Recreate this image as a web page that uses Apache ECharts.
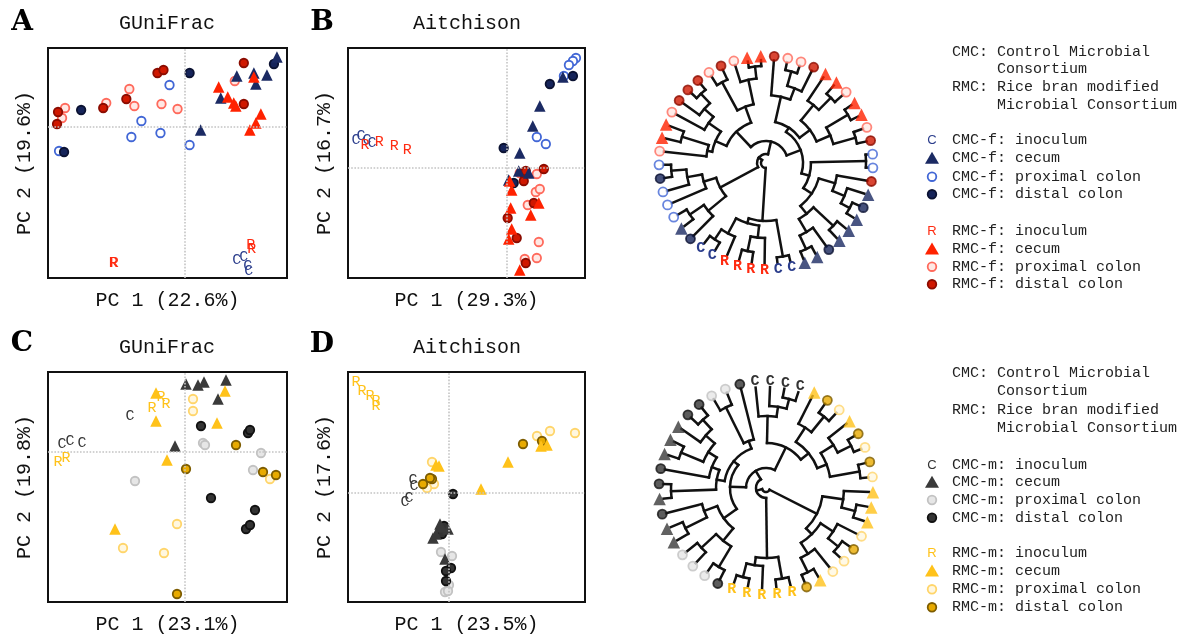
<!DOCTYPE html>
<html><head><meta charset="utf-8">
<script src="https://cdn.jsdelivr.net/npm/echarts@6/dist/echarts.min.js"></script>
<style>html,body{margin:0;padding:0;background:#fff}#c{width:1185px;height:634px}</style>
</head><body><div id="c"></div>
<script>
// ================= DATA =================
const panelTitles = ['GUniFrac', 'Aitchison', 'GUniFrac', 'Aitchison'];
const panelLetters = ['A', 'B', 'C', 'D'];
const xAxisNames = ['PC 1 (22.6%)', 'PC 1 (29.3%)', 'PC 1 (23.1%)', 'PC 1 (23.5%)'];
const yAxisNames = ['PC 2 (19.6%)', 'PC 2 (16.7%)', 'PC 2 (19.8%)', 'PC 2 (17.6%)'];
const xRanges = [[-136, 102], [-158, 78], [-137, 102], [-101, 136]];
const yRanges = [[-151, 79], [-110, 120], [-150, 80], [-109, 121]];

// Panel A (GUniFrac, female)
const A_CI = [[52,-133],[59,-130],[63,-139],[64,-144]];
const A_CC = [[16,-3],[36,29],[52,51],[69,54],[71,43],[82,52],[92,70]];
const A_CP = [[-15,42],[-43,6],[-53,-10],[-24,-6],[5,-18],[-125,-24]];
const A_CD = [[5,54],[-103,17],[-120,-25],[89,63]];
const A_RI = [[-71,-136],[-70,-136],[66,-118],[67,-122]];
const A_RC = [[34,40],[43,30],[49,24],[51,21],[69,50],[65,-3],[71,4],[76,13]];
const A_RP = [[-55,38],[-78,24],[-50,21],[-23,23],[-7,18],[-119,19],[-122,9],[50,46]];
const A_RD = [[-27,54],[-21,57],[-58,28],[-81,19],[-126,15],[-127,3],[59,64],[59,23]];
// Panel B (Aitchison, female)
const B_CI = [[-150,28],[-145,32],[-139,28],[-134,25]];
const B_CC = [[56,91],[33,62],[26,42],[13,15],[12,-3],[22,-5],[2,-12]];
const B_CP = [[69,110],[66,107],[62,103],[57,92],[30,31],[39,24]];
const B_CD = [[43,84],[66,92],[-3,20],[7,-15]];
const B_RI = [[-141,23],[-127,26],[-112,22],[-99,18]];
const B_RC = [[5,-22],[4,-40],[5,-61],[2,-71],[32,-35],[24,-47],[13,-102],[3,-13]];
const B_RP = [[30,-6],[29,-24],[33,-21],[21,-37],[32,-74],[30,-90],[18,-91],[13,-5]];
const B_RD = [[17,-5],[37,-1],[17,-13],[1,-50],[10,-70],[27,-35],[19,-95],[19,-3]];
// Panel C (GUniFrac, male)
const C_CI = [[-55,36],[-123,8],[-115,11],[-103,9]];
const C_CC = [[1,68],[13,67],[19,70],[41,72],[33,53],[-10,6]];
const C_CP = [[18,9],[20,7],[-50,-29],[76,-1],[68,-18]];
const C_CD = [[16,26],[63,19],[65,22],[26,-46],[70,-58],[61,-77],[65,-73]];
const C_RI = [[-33,44],[-24,55],[-19,48],[-127,-10],[-119,-6]];
const C_RC = [[-29,59],[40,61],[-29,31],[32,29],[-18,-8],[-70,-77]];
const C_RP = [[8,53],[8,41],[-8,-72],[-62,-96],[-21,-101],[85,-27]];
const C_RD = [[51,7],[1,-17],[78,-20],[91,-23],[-8,-142]];
// Panel D (Aitchison, male)
const D_CI = [[-36,13],[-35,7],[-44,-9],[-40,-5]];
const D_CC = [[-9,-31],[-1,-36],[-16,-45],[-8,-34],[-4,-66],[-13,-41]];
const D_CP = [[-8,-59],[3,-63],[0,-92],[-4,-99],[-1,-98]];
const D_CD = [[4,-1],[-8,-37],[-7,-41],[2,-75],[-3,-78],[-3,-88],[-5,-33]];
const D_RI = [[-93,111],[-87,102],[-79,97],[-73,92],[-73,87]];
const D_RC = [[92,47],[98,48],[-13,28],[-10,27],[59,31],[32,4]];
const D_RP = [[88,57],[101,62],[126,60],[-17,31],[-15,9],[-22,5]];
const D_RD = [[74,49],[93,52],[-26,9],[-17,14],[-19,15]];

// Dendrogram tips (clockwise from top) and trees [nodeDepth, child, child]; numbers = tip index
const topTips = ['RD','RP','RP','RD','RC','RC','RP','RC','RC','RP','RD','CP','CP','RD','CC','CD','CC','CC','CC','CD','CC','CC',
  'CI','CI','RI','RI','RI','RI','CI','CI','CD','CC','CP','CP','CP','CD','CP','RP','RC','RC','RP','RD','RD','RD','RP','RD','RP','RC','RC'];
const topTree = [5,
  [58, [95,23,24], [63, [75,25,[90,26,27]], [80,28,[92,29,30]]]],
  [9,
    [52, [75,31,[92,32,33]], [65,34,[80,35,[95,36,37]]]],
    [22,
      [43, [55, [60,38,[88,39,40]], [70,41,[82,42,[95,43,44]]]], [60, [92,45,46], [85,47,[97,48,49]]]],
      [37,
        [42, [68,1,[80,[95,2,3],4]], [55, [75,5,[92,6,7]], [70,[95,8,9],[93,10,11]]]],
        [45, [100,12,13], [55, [72,14,[85,15,[95,16,17]]], [65,[92,18,19],[80,20,[95,21,22]]]]]
      ]
    ]
  ]
];
const bottomTips = ['CI','CI','CI','CI','RC','RD','RP','RC','RD','RP','RD','RP','RC','RC','RC','RP','RD','RP','RP','RC','RD',
  'RI','RI','RI','RI','RI','CD','CP','CP','CP','CC','CC','CD','CC','CD','CD','CC','CC','CC','CD','CD','CP','CP','CD'];
const bottomTree = [4,
  [57, [78,13,[92,14,15]], [65, [80,16,[93,17,18]], [78,19,[94,20,21]]]],
  [10,
    [70, [92,22,23], [78,24,[92,25,26]]],
    [20,
      [36,
        [52, [68,[92,27,28],[88,29,30]], [66,[90,31,32],33]],
        [42, [50,[95,34,35],[58,36,[68,[92,37,38],[80,39,[93,40,41]]]]], [50,[90,42,43],44]]
      ],
      [45,
        [72,1,[82,2,[92,3,4]]],
        [55, [72,5,[92,6,7]], [65,[80,8,[95,9,10]],[95,11,12]]]
      ]
    ]
  ]
];

const legendHeader = ['CMC: Control Microbial', 'Consortium', 'RMC: Rice bran modified', 'Microbial Consortium'];
const legendTopLabels = ['CMC-f: inoculum','CMC-f: cecum','CMC-f: proximal colon','CMC-f: distal colon',
  'RMC-f: inoculum','RMC-f: cecum','RMC-f: proximal colon','RMC-f: distal colon'];
const legendBottomLabels = ['CMC-m: inoculum','CMC-m: cecum','CMC-m: proximal colon','CMC-m: distal colon',
  'RMC-m: inoculum','RMC-m: cecum','RMC-m: proximal colon','RMC-m: distal colon'];
const groupOrder = ['CI','CC','CP','CD','RI','RC','RP','RD'];

// ================= STYLES =================
const MONO = "'Liberation Mono','DejaVu Sans Mono',monospace";
const fStyle = {
  CI:{text:'C', color:'#2b3d8c'},
  CC:{symbol:'triangle', fill:'#1b2a63', stroke:'#1b2a63'},
  CP:{symbol:'circle', fill:'#ffffff', stroke:'#4267d6'},
  CD:{symbol:'circle', fill:'#16245a', stroke:'#0b1232'},
  RI:{text:'R', color:'#ff2a10'},
  RC:{symbol:'triangle', fill:'#ff2200', stroke:'#ff2200'},
  RP:{symbol:'circle', fill:'#ffe8e4', stroke:'#ff6a5c'},
  RD:{symbol:'circle', fill:'#d01800', stroke:'#8b0c00'}
};
const mStyle = {
  CI:{text:'C', color:'#333333'},
  CC:{symbol:'triangle', fill:'#3a3a3a', stroke:'#3a3a3a'},
  CP:{symbol:'circle', fill:'#e6e6e6', stroke:'#c2c2c2'},
  CD:{symbol:'circle', fill:'#333333', stroke:'#111111'},
  RI:{text:'R', color:'#ffc21a'},
  RC:{symbol:'triangle', fill:'#ffc21a', stroke:'#ffc21a'},
  RP:{symbol:'circle', fill:'#fff7e0', stroke:'#ffd56a'},
  RD:{symbol:'circle', fill:'#e8aa00', stroke:'#7d5c00'}
};

const panelData = [
  {CI:A_CI,CC:A_CC,CP:A_CP,CD:A_CD,RI:A_RI,RC:A_RC,RP:A_RP,RD:A_RD},
  {CI:B_CI,CC:B_CC,CP:B_CP,CD:B_CD,RI:B_RI,RC:B_RC,RP:B_RP,RD:B_RD},
  {CI:C_CI,CC:C_CC,CP:C_CP,CD:C_CD,RI:C_RI,RC:C_RC,RP:C_RP,RD:C_RD},
  {CI:D_CI,CC:D_CC,CP:D_CP,CD:D_CD,RI:D_RI,RC:D_RC,RP:D_RP,RD:D_RD}
];
const panelStyles = [fStyle, fStyle, mStyle, mStyle];

// ================= LAYOUT =================
const grids = [
  {left:48, top:48, width:239, height:230},
  {left:348, top:48, width:237, height:230},
  {left:48, top:372, width:239, height:230},
  {left:348, top:372, width:237, height:230}
].map(g => Object.assign({show:true, borderColor:'#111', borderWidth:2, backgroundColor:'#fff', outerBoundsMode:'none'}, g));

const xAxes = [], yAxes = [], series = [];
for (let i = 0; i < 4; i++) {
  xAxes.push({gridIndex:i, type:'value', min:xRanges[i][0], max:xRanges[i][1],
    axisLine:{show:false}, axisTick:{show:false}, axisLabel:{show:false}, splitLine:{show:false},
    name:xAxisNames[i], nameLocation:'middle', nameGap:13,
    nameTextStyle:{fontFamily:MONO, fontSize:20, color:'#111'}});
  yAxes.push({gridIndex:i, type:'value', min:yRanges[i][0], max:yRanges[i][1],
    axisLine:{show:false}, axisTick:{show:false}, axisLabel:{show:false}, splitLine:{show:false},
    name:yAxisNames[i], nameLocation:'middle', nameGap:13,
    nameTextStyle:{fontFamily:MONO, fontSize:20, color:'#111'}});
  // zero reference lines
  series.push({type:'scatter', xAxisIndex:i, yAxisIndex:i, data:[], silent:true,
    markLine:{silent:true, symbol:['none','none'], label:{show:false},
      lineStyle:{color:'#c4c4c4', type:'dotted', width:1.6},
      data:[{xAxis:0},{yAxis:0}]}});
  const st = panelStyles[i];
  const drawOrder = ['CP','RP','CD','RD','CC','RC','CI','RI'];
  drawOrder.forEach(g => {
    const s = st[g], d = panelData[i][g];
    if (s.text) {
      series.push({type:'custom', xAxisIndex:i, yAxisIndex:i, data:d, z:5,
        renderItem:(params, api) => {
          const p = api.coord([api.value(0), api.value(1)]);
          return {type:'text', x:p[0], y:p[1], style:{text:s.text, fill:s.color,
            font:'15px ' + MONO, align:'center', verticalAlign:'middle'}};
        }});
    } else {
      series.push({type:'scatter', xAxisIndex:i, yAxisIndex:i, data:d,
        symbol:s.symbol, symbolSize:s.symbol === 'triangle' ? 11.5 : 8.5,
        itemStyle:{color:s.fill, borderColor:s.stroke, borderWidth:s.symbol === 'triangle' ? 0 : 1.8, opacity:1}});
    }
  });
}

// ---- dendrograms ----
function layoutTree(tree, tips, startTip, a0, step, tipR) {
  const radials = [], arcs = [], leaves = [];
  const ang = i => a0 + step * (i - 1) + (i < startTip ? 360 : 0);
  function walk(node, parentR) {
    if (typeof node === 'number') {
      const a = ang(node);
      const t = tips[node - 1];
      const gap = (t === 'CI' || t === 'RI') ? 6 : 4;
      radials.push([parentR, a, tipR - gap]);
      leaves.push({type:t, a:a});
      return a;
    }
    const r = node[0];
    const as = node.slice(1).map(ch => walk(ch, r));
    const first = as[0], last = as[as.length - 1];
    arcs.push([r, first, last]);
    const a = (first + last) / 2;
    if (parentR !== null) radials.push([parentR, a, r]);
    return a;
  }
  walk(tree, null);
  return {radials, arcs, leaves};
}
const TIP_R = 107;
const trees = [
  {layout: layoutTree(topTree, topTips, 23, 4.4, 7.35, TIP_R), style: fStyle},
  {layout: layoutTree(bottomTree, bottomTips, 13, -5.9, 8.18, TIP_R), style: mStyle}
];
const polars = [{center:[766,163], radius:110}, {center:[766,488], radius:110}];
const angleAxes = polars.map((p, i) => ({polarIndex:i, type:'value', min:0, max:360, startAngle:90, clockwise:true, show:false}));
const radiusAxes = polars.map((p, i) => ({polarIndex:i, type:'value', min:0, max:110, show:false}));
const norm = a => ((a % 360) + 360) % 360;

trees.forEach((t, pi) => {
  const L = t.layout;
  series.push({type:'custom', coordinateSystem:'polar', polarIndex:pi, data:L.radials, clip:false, silent:true,
    renderItem:(params, api) => {
      const a = norm(api.value(1));
      const p0 = api.coord([api.value(0), a]), p1 = api.coord([api.value(2), a]);
      return {type:'line', shape:{x1:p0[0], y1:p0[1], x2:p1[0], y2:p1[1]},
        style:{stroke:'#111', lineWidth:2.5, lineCap:'square'}};
    }});
  series.push({type:'custom', coordinateSystem:'polar', polarIndex:pi, data:L.arcs, clip:false, silent:true,
    renderItem:(params, api) => {
      const cs = params.coordSys;
      const p = api.coord([api.value(0), 0]);
      const R = Math.hypot(p[0] - cs.cx, p[1] - cs.cy);
      const s = (api.value(1) - 90) * Math.PI / 180, e = (api.value(2) - 90) * Math.PI / 180;
      return {type:'arc', shape:{cx:cs.cx, cy:cs.cy, r:R, startAngle:s, endAngle:e, clockwise:true},
        style:{stroke:'#111', lineWidth:2.5, fill:'none', lineCap:'square'}};
    }});
  groupOrder.forEach(g => {
    const s = t.style[g];
    const d = L.leaves.filter(l => l.type === g).map(l => [TIP_R, norm(l.a)]);
    if (s.text) {
      series.push({type:'custom', coordinateSystem:'polar', polarIndex:pi, data:d, clip:false,
        renderItem:(params, api) => {
          const p = api.coord([api.value(0), api.value(1)]);
          return {type:'text', x:p[0], y:p[1], style:{text:s.text, fill:s.color,
            font:'bold 15px ' + MONO, align:'center', verticalAlign:'middle'}};
        }});
    } else {
      series.push({type:'scatter', coordinateSystem:'polar', polarIndex:pi, data:d,
        symbol:s.symbol, symbolSize:s.symbol === 'triangle' ? 12.5 : 9,
        itemStyle:{color:s.fill, borderColor:s.stroke, borderWidth:s.symbol === 'triangle' ? 0 : 1.8}});
    }
  });
});

// ---- text / legend graphics ----
const graphics = [];
const titlePos = [[167,24],[467,24],[167,348],[467,348]];
const letterPos = [[22,23],[322,23],[22,344],[322,345]];
for (let i = 0; i < 4; i++) {
  graphics.push({type:'text', x:titlePos[i][0], y:titlePos[i][1],
    style:{text:panelTitles[i], font:'20px ' + MONO, fill:'#111', align:'center', verticalAlign:'middle'}});
  graphics.push({type:'text', x:letterPos[i][0], y:letterPos[i][1],
    style:{text:panelLetters[i], font:"900 28px 'DejaVu Serif',serif", fill:'#000', align:'center', verticalAlign:'middle'}});
}
function addLegend(headerYs, itemYs, labels, style) {
  const tx = 952, ind = 997, sx = 932;
  legendHeader.forEach((h, k) => {
    graphics.push({type:'text', x:(k % 2 === 1) ? ind : tx, y:headerYs[k],
      style:{text:h, font:'15px ' + MONO, fill:'#222', verticalAlign:'middle'}});
  });
  groupOrder.forEach((g, k) => {
    const y = itemYs[k], s = style[g];
    graphics.push({type:'text', x:tx, y:y, style:{text:labels[k], font:'15px ' + MONO, fill:'#222', verticalAlign:'middle'}});
    if (s.text) {
      graphics.push({type:'text', x:sx, y:y, style:{text:s.text, font:"13px 'Liberation Sans',sans-serif", fill:s.color, align:'center', verticalAlign:'middle'}});
    } else if (s.symbol === 'triangle') {
      graphics.push({type:'polygon', shape:{points:[[sx, y - 6.5],[sx + 7, y + 5.5],[sx - 7, y + 5.5]]}, style:{fill:s.fill}});
    } else {
      graphics.push({type:'circle', shape:{cx:sx, cy:y, r:4.3}, style:{fill:s.fill, stroke:s.stroke, lineWidth:1.8}});
    }
  });
}
addLegend([51.7,69.3,87.3,105], [140,158.3,176.7,194.3,231,249,266.7,284.3], legendTopLabels, fStyle);
addLegend([373.3,391.5,410,428.3], [465,482.3,500,517.7,553.3,571,589.3,607.3], legendBottomLabels, mStyle);

const chart = echarts.init(document.getElementById('c'));
chart.setOption({
  animation:false,
  backgroundColor:'#fff',
  grid:grids, xAxis:xAxes, yAxis:yAxes,
  polar:polars, angleAxis:angleAxes, radiusAxis:radiusAxes,
  series:series,
  graphic:graphics
});
</script></body></html>
